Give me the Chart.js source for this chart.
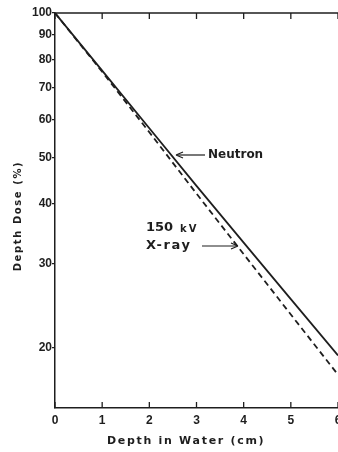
<!DOCTYPE html>
<html>
<head>
<meta charset="utf-8">
<script src="https://cdn.jsdelivr.net/npm/chart.js@4/dist/chart.umd.min.js"></script>
<style>
  html, body { margin: 0; padding: 0; background: #fff; overflow: hidden; }
  #wrap { width: 338px; height: 452px; position: relative; }
</style>
</head>
<body>
<div id="wrap"><canvas id="chart" width="338" height="452"></canvas></div>
<script>
// depth in water (cm) and depth dose (%)
const depths = [0, 1, 2, 3, 4, 5, 6]
const neutronDose = [100, 75.8, 57.5, 43.6, 33.2, 25.3, 19.3]
const xrayDose = [100, 75.4, 56.4, 42.0, 31.4, 23.5, 17.6]
const yTickValues = [20, 30, 40, 50, 60, 70, 80, 90, 100]
const xTickValues = [0, 1, 2, 3, 4, 5, 6]

const ink = "#1e1e1e"
const font = "'DejaVu Sans', sans-serif"
const tickFont = "'Liberation Sans', Arial, sans-serif"

// frame ticks, axis titles and the curve labels
const decorations = {
  id: "decorations",
  afterDraw(chart) {
    const { ctx, chartArea: a, scales } = chart
    const x = scales.x
    ctx.save()
    ctx.strokeStyle = ink
    ctx.lineWidth = 1.3
    // top frame line
    ctx.beginPath()
    ctx.moveTo(a.left, a.top)
    ctx.lineTo(a.right, a.top)
    ctx.stroke()
    // inner ticks on bottom and top
    xTickValues.forEach((v) => {
      const px = x.getPixelForValue(v)
      ctx.beginPath()
      ctx.moveTo(px, a.bottom)
      ctx.lineTo(px, a.bottom - 6)
      ctx.moveTo(px, a.top)
      ctx.lineTo(px, a.top + 6)
      ctx.stroke()
    })

    ctx.fillStyle = ink
    ctx.textBaseline = "middle"

    // x title
    ctx.font = "bold 11px " + font
    ctx.letterSpacing = "1.7px"
    ctx.textAlign = "left"
    ctx.fillText("Depth in Water (cm)", 107, 441)

    // y title
    ctx.font = "bold 10px " + font
    ctx.letterSpacing = "1.6px"
    ctx.save()
    ctx.translate(18, 216)
    ctx.rotate(-Math.PI / 2)
    ctx.textAlign = "center"
    ctx.fillText("Depth Dose (%)", 0, 0)
    ctx.restore()
    ctx.letterSpacing = "0px"

    // Neutron label with arrow to the solid line
    const ny = 155
    ctx.font = "bold 12px " + font
    ctx.textAlign = "left"
    ctx.fillText("Neutron", 208, ny)
    ctx.lineWidth = 1.2
    ctx.beginPath()
    ctx.moveTo(205, ny)
    ctx.lineTo(177, ny)
    ctx.stroke()
    ctx.beginPath()
    ctx.moveTo(176, ny)
    ctx.lineTo(183, ny - 3)
    ctx.moveTo(176, ny)
    ctx.lineTo(183, ny + 3)
    ctx.stroke()

    // 150 kV X-ray label with arrow to the dashed line
    ctx.font = "bold 13px " + font
    ctx.fillText("150", 146, 228)
    ctx.font = "bold 10px " + font
    ctx.letterSpacing = "2px"
    ctx.fillText("kV", 180, 229)
    ctx.font = "bold 13px " + font
    ctx.letterSpacing = "1.6px"
    ctx.fillText("X-ray", 146, 246)
    ctx.letterSpacing = "0px"
    ctx.beginPath()
    ctx.moveTo(202, 246)
    ctx.lineTo(237, 246)
    ctx.stroke()
    ctx.beginPath()
    ctx.moveTo(238, 246)
    ctx.lineTo(231, 243)
    ctx.moveTo(238, 246)
    ctx.lineTo(231, 249)
    ctx.stroke()
    ctx.restore()
  },
}

new Chart(document.getElementById("chart"), {
  type: "line",
  data: {
    datasets: [
      {
        label: "Neutron",
        data: depths.map((d, i) => ({ x: d, y: neutronDose[i] })),
        borderColor: ink,
        borderWidth: 1.8,
        pointRadius: 0,
        tension: 0,
      },
      {
        label: "150 kV X-ray",
        data: depths.map((d, i) => ({ x: d, y: xrayDose[i] })),
        borderColor: ink,
        borderWidth: 1.8,
        borderDash: [6, 4],
        pointRadius: 0,
        tension: 0,
      },
    ],
  },
  options: {
    responsive: false,
    animation: false,
    layout: { padding: { top: 13, right: 0, bottom: 0, left: 0 } },
    plugins: {
      legend: { display: false },
      tooltip: { enabled: false },
    },
    scales: {
      x: {
        type: "linear",
        min: 0,
        max: 6,
        afterBuildTicks: (scale) => {
          scale.ticks = xTickValues.map((v) => ({ value: v }))
        },
        afterFit: (scale) => {
          scale.height = 44
          scale.paddingLeft = 0
          scale.paddingRight = 0
        },
        grid: { display: false, drawTicks: false },
        border: { display: true, color: ink, width: 1.5 },
        ticks: {
          color: ink,
          padding: 5,
          maxRotation: 0,
          font: { family: tickFont, size: 12, weight: "bold" },
        },
      },
      y: {
        type: "logarithmic",
        min: 15,
        max: 100,
        afterBuildTicks: (scale) => {
          scale.ticks = yTickValues.map((v) => ({ value: v }))
        },
        afterFit: (scale) => {
          scale.width = 55
          scale.paddingTop = 0
          scale.paddingBottom = 0
        },
        grid: {
          drawOnChartArea: false,
          drawTicks: true,
          tickLength: 3,
          color: ink,
          lineWidth: 1.3,
        },
        border: { display: true, color: ink, width: 1.5 },
        ticks: {
          color: ink,
          padding: 0,
          font: { family: tickFont, size: 12, weight: "bold" },
          callback: (v) => String(v),
        },
      },
    },
  },
  plugins: [decorations],
})
</script>
</body>
</html>
